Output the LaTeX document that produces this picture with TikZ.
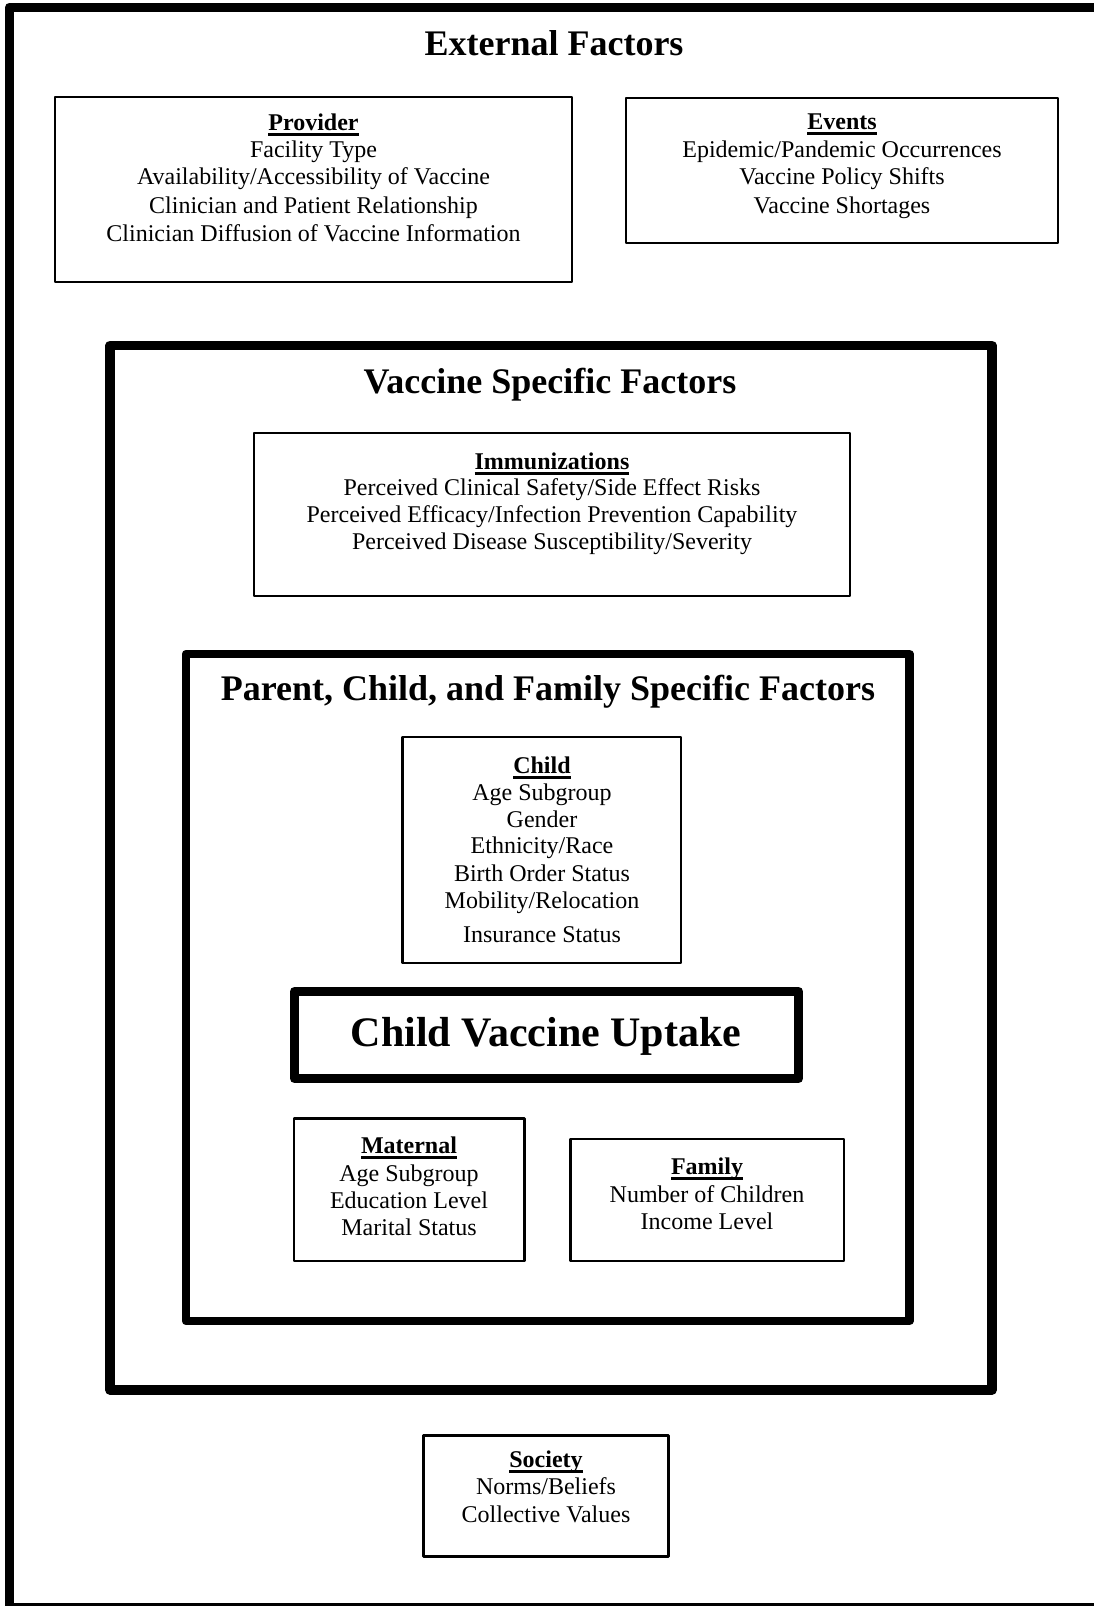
\documentclass[tikz,border=0pt]{standalone}
\usepackage{fontspec}
\setmainfont{Liberation Serif}
\newcommand{\hdul}[1]{\setbox0\hbox{\bfseries #1}\rlap{\rule[-5.5pt]{\wd0}{3pt}}\box0}
\tikzset{
  txt/.style={anchor=base, inner sep=0pt, font=\fontsize{24}{28}\selectfont},
  ttl/.style={anchor=base, inner sep=0pt, font=\fontsize{36}{40}\selectfont\bfseries},
  big/.style={anchor=base, inner sep=0pt, font=\fontsize{42}{46}\selectfont\bfseries},
  thinbox/.style={draw, line width=2.5pt, line join=round, inner sep=0pt},
  thickbox/.style={draw, line width=9pt, line join=round, inner sep=0pt},
}
\begin{document}
\begin{tikzpicture}[x=1pt, y=-1pt]
\useasboundingbox (0,0) rectangle (1094,1606);
% outer frame
\node[thickbox, minimum width=1110.5pt, minimum height=1600.5pt] (outer) at (564.75,807.25) {};
\node[ttl] (exttitle) at (554,55) {External Factors};
% provider
\node[thinbox, minimum width=517pt, minimum height=185pt] (prov) at (313.5,189.5) {};
\node[txt] (prov0) at (313.5,130) {\hdul{Provider}};
\node[txt] (prov1) at (313.5,157) {Facility Type};
\node[txt] (prov2) at (313.5,184) {Availability/Accessibility of Vaccine};
\node[txt] (prov3) at (313.5,213) {Clinician and Patient Relationship};
\node[txt] (prov4) at (313.5,241) {Clinician Diffusion of Vaccine Information};
% events
\node[thinbox, minimum width=432pt, minimum height=145pt] (evt) at (842,170.5) {};
\node[txt] (evt0) at (842,129) {\hdul{Events}};
\node[txt] (evt1) at (842,157) {Epidemic/Pandemic Occurrences};
\node[txt] (evt2) at (842,184) {Vaccine Policy Shifts};
\node[txt] (evt3) at (842,213) {Vaccine Shortages};
% vaccine specific
\node[draw, line width=9.5pt, line join=round, inner sep=0pt, minimum width=882pt, minimum height=1044.5pt] (vacc) at (551,867.75) {};
\node[ttl] (vacctitle) at (550,393) {Vaccine Specific Factors};
\node[thinbox, minimum width=596pt, minimum height=163pt] (imm) at (552,514.5) {};
\node[txt] (imm0) at (552,469) {\hdul{Immunizations}};
\node[txt] (imm1) at (552,495) {Perceived Clinical Safety/Side Effect Risks};
\node[txt] (imm2) at (552,522) {Perceived Efficacy/Infection Prevention Capability};
\node[txt] (imm3) at (552,549) {Perceived Disease Susceptibility/Severity};
% parent child family
\node[draw, line width=8.5pt, line join=round, inner sep=0pt, minimum width=723.5pt, minimum height=667pt] (par) at (547.75,987.5) {};
\node[ttl] (partitle) at (548,700) {Parent, Child, and Family Specific Factors};
% child
\node[thinbox, minimum width=278.5pt, minimum height=226pt] (chd) at (541.75,850) {};
\node[txt] (chd0) at (542,773) {\hdul{Child}};
\node[txt] (chd1) at (542,800) {Age Subgroup};
\node[txt] (chd2) at (542,827) {Gender};
\node[txt] (chd3) at (542,853) {Ethnicity/Race};
\node[txt] (chd4) at (542,881) {Birth Order Status};
\node[txt] (chd5) at (542,908) {Mobility/Relocation};
\node[txt] (chd6) at (542,942) {Insurance Status};
% uptake
\node[thickbox, minimum width=504pt, minimum height=87pt] (cvu) at (546.5,1035) {};
\node[big] (cvut) at (546,1046) {Child Vaccine Uptake};
% maternal
\node[thinbox, minimum width=230.5pt, minimum height=142.5pt] (mat) at (409.25,1189.75) {};
\node[txt] (mat0) at (409,1153) {\hdul{Maternal}};
\node[txt] (mat1) at (409,1181) {Age Subgroup};
\node[txt] (mat2) at (409,1208) {Education Level};
\node[txt] (mat3) at (409,1235) {Marital Status};
% family
\node[thinbox, minimum width=273.5pt, minimum height=122pt] (fam) at (707.25,1200) {};
\node[txt] (fam0) at (707,1174) {\hdul{Family}};
\node[txt] (fam1) at (707,1202) {Number of Children};
\node[txt] (fam2) at (707,1229) {Income Level};
% society
\node[thinbox, minimum width=245pt, minimum height=121pt] (soc) at (546,1496) {};
\node[txt] (soc0) at (546,1467) {\hdul{Society}};
\node[txt] (soc1) at (546,1494) {Norms/Beliefs};
\node[txt] (soc2) at (546,1522) {Collective Values};
\end{tikzpicture}
\end{document}
